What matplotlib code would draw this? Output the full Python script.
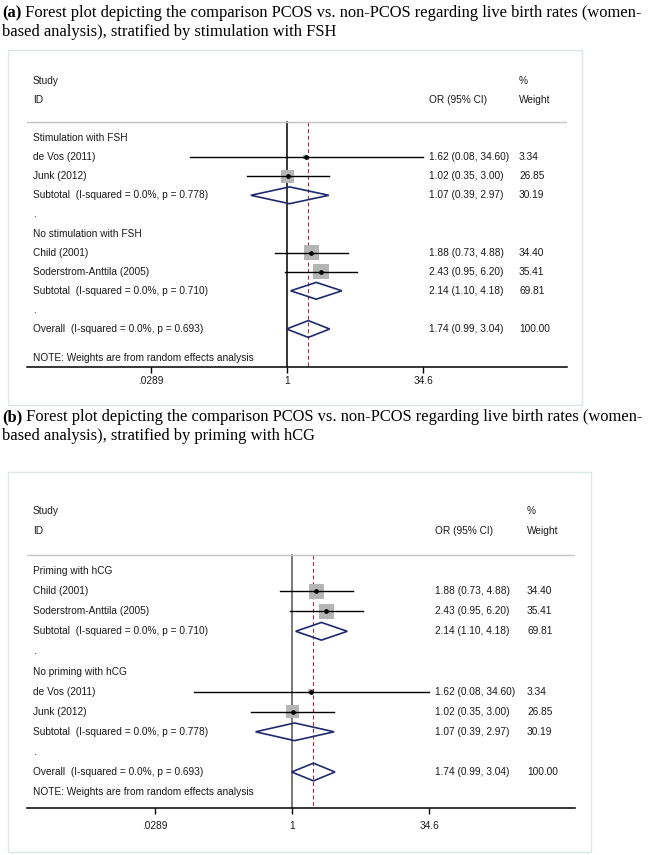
import numpy as np
import matplotlib.pyplot as plt
from matplotlib.patches import Rectangle, Polygon

W, H = 652, 855

# individual studies
studies = ["de Vos (2011)", "Junk (2012)", "Child (2001)", "Soderstrom-Anttila (2005)"]
study_or = [1.62, 1.02, 1.88, 2.43]
study_lo = [0.08, 0.35, 0.73, 0.95]
study_hi = [34.60, 3.00, 4.88, 6.20]
study_wt = [3.34, 26.85, 34.40, 35.41]

# panel (a): stratified by stimulation with FSH
names_a = ["Stimulation with FSH", "No stimulation with FSH"]
members_a = [[0, 1], [2, 3]]
sub_or_a = [1.07, 2.14]
sub_lo_a = [0.39, 1.10]
sub_hi_a = [2.97, 4.18]
sub_wt_a = [30.19, 69.81]
sub_p_a = ["0.778", "0.710"]

# panel (b): stratified by priming with hCG
names_b = ["Priming with hCG", "No priming with hCG"]
members_b = [[2, 3], [0, 1]]
sub_or_b = [2.14, 1.07]
sub_lo_b = [1.10, 0.39]
sub_hi_b = [4.18, 2.97]
sub_wt_b = [69.81, 30.19]
sub_p_b = ["0.710", "0.778"]

overall = (1.74, 0.99, 3.04, 100.00)
overall_p = "0.693"
i2 = "0.0%"

tick_vals = [0.0289, 1, 34.6]
tick_labels = [".0289", "1", "34.6"]

title_a = ("(a)", " Forest plot depicting the comparison PCOS vs. non-PCOS regarding live birth rates (women-",
           "based analysis), stratified by stimulation with FSH")
title_b = ("(b)", " Forest plot depicting the comparison PCOS vs. non-PCOS regarding live birth rates (women-",
           "based analysis), stratified by priming with hCG")

SANS = "Liberation Sans"
SERIF = "Liberation Serif"
TXT = "#1a1a1a"
FS = 7.3
TFS = 11.9
NAVY = "#1f2a6e"
SQ = "#b5b5b5"
RED = "#a0283c"

fig = plt.figure(figsize=(W / 100, H / 100), dpi=100)


def fx(px):
    return px / W


def fy(py):
    return 1 - py / H


def draw_title(title, y1, y2):
    t = fig.text(fx(2), fy(y1), title[0], fontfamily=SERIF, fontweight="bold",
                 fontsize=TFS, va="center", ha="left", color="black")
    fig.canvas.draw()
    bb = t.get_window_extent()
    fig.text(bb.x1 / W, fy(y1), title[1], fontfamily=SERIF, fontsize=TFS,
             va="center", ha="left", color="black")
    fig.text(fx(2), fy(y2), title[2], fontfamily=SERIF, fontsize=TFS,
             va="center", ha="left", color="black")


def draw_panel(lay, names, members, s_or, s_lo, s_hi, s_wt, s_p, null_color):
    # light frame around the panel
    fig.add_artist(Rectangle((fx(lay["box"][0]), fy(lay["box"][3])),
                             (lay["box"][2] - lay["box"][0]) / W,
                             (lay["box"][3] - lay["box"][1]) / H,
                             transform=fig.transFigure, fill=False,
                             edgecolor="#dfe7ea", lw=1.0))

    top_px = lay["row0"] - 4 * lay["rowh"]
    bot_px = lay["row0"] + lay["axis_row"] * lay["rowh"]
    ax = fig.add_axes([fx(lay["left"]), fy(bot_px),
                       (lay["right"] - lay["left"]) / W, (bot_px - top_px) / H])
    ax.set_xscale("log")
    ppl = (lay["tick_hi"] - lay["center"]) / np.log(tick_vals[-1])
    ax.set_xlim(np.exp((lay["left"] - lay["center"]) / ppl),
                np.exp((lay["right"] - lay["center"]) / ppl))
    ax.set_ylim(lay["axis_row"], -4)
    ax.patch.set_alpha(0)
    for s in ["top", "right", "left"]:
        ax.spines[s].set_visible(False)
    ax.spines["bottom"].set_linewidth(1.1)
    ax.set_yticks([])
    ax.set_xticks(tick_vals)
    ax.set_xticklabels(tick_labels)
    ax.minorticks_off()
    ax.tick_params(axis="x", direction="out", length=4, width=1, pad=lay["pad"],
                   labelsize=FS, labelcolor=TXT)
    for lab in ax.get_xticklabels():
        lab.set_fontfamily(SANS)

    tr = ax.get_yaxis_transform()
    x_name = (lay["name_x"] - lay["left"]) / (lay["right"] - lay["left"])
    x_ci = (lay["ci_x"] - lay["left"]) / (lay["right"] - lay["left"])
    x_wt = (lay["wt_x"] - lay["left"]) / (lay["right"] - lay["left"])

    def txt(x, y, s):
        ax.text(x, y, s, transform=tr, fontfamily=SANS, fontsize=FS, color=TXT,
                va="center", ha="left", clip_on=False)

    # header
    txt(x_name, -3, "Study")
    txt(x_name, -2, "ID")
    txt(x_wt, -3, "%")
    txt(x_ci, -2, "OR (95% CI)")
    txt(x_wt, -2, "Weight")
    sep = -0.82
    ax.axhline(sep, color="#c4c4c4", lw=1.0)

    def diamond(y, o, lo, hi):
        h = 0.44
        ax.add_patch(Polygon([(lo, y), (o, y - h), (hi, y), (o, y + h)], closed=True,
                             fill=False, edgecolor=NAVY, lw=1.2, zorder=4))

    row = 0
    for g in range(len(names)):
        txt(x_name, row, names[g])
        row += 1
        for i in members[g]:
            ax.scatter([study_or[i]], [row], s=3.4 * study_wt[i], marker="s",
                       color=SQ, edgecolors="none", zorder=2)
            ax.plot([study_lo[i], study_hi[i]], [row, row], color="black", lw=1.0, zorder=3)
            ax.plot([study_or[i]], [row], "o", color="black", markersize=2.4, zorder=5)
            txt(x_name, row, studies[i])
            txt(x_ci, row, f"{study_or[i]:.2f} ({study_lo[i]:.2f}, {study_hi[i]:.2f})")
            txt(x_wt, row, f"{study_wt[i]:.2f}")
            row += 1
        diamond(row, s_or[g], s_lo[g], s_hi[g])
        txt(x_name, row, f"Subtotal  (I-squared = {i2}, p = {s_p[g]})")
        txt(x_ci, row, f"{s_or[g]:.2f} ({s_lo[g]:.2f}, {s_hi[g]:.2f})")
        txt(x_wt, row, f"{s_wt[g]:.2f}")
        row += 1
        txt(x_name, row, ".")
        row += 1

    o, lo, hi, wt = overall
    diamond(row, o, lo, hi)
    txt(x_name, row, f"Overall  (I-squared = {i2}, p = {overall_p})")
    txt(x_ci, row, f"{o:.2f} ({lo:.2f}, {hi:.2f})")
    txt(x_wt, row, f"{wt:.2f}")
    txt(x_name, lay["note_row"], "NOTE: Weights are from random effects analysis")

    # line of no effect and overall estimate
    ax.plot([1, 1], [sep, lay["axis_row"]], color=null_color, lw=1.1, zorder=1)
    ax.plot([o, o], [sep, lay["axis_row"]], color=RED, lw=0.8,
            linestyle=(0, (3.5, 2.5)), zorder=1)
    return ax


lay_a = dict(box=(8, 50, 582, 405), left=27, right=567, center=287, tick_hi=423,
             row0=138, rowh=19.1, axis_row=12.0, note_row=11.5, pad=2.5,
             name_x=33, ci_x=429, wt_x=519)
lay_b = dict(box=(8, 472, 591, 852), left=27, right=575, center=292, tick_hi=429,
             row0=571, rowh=20.1, axis_row=11.8, note_row=11.0, pad=5,
             name_x=33, ci_x=435, wt_x=527)

draw_title(title_a, 13, 32)
draw_panel(lay_a, names_a, members_a, sub_or_a, sub_lo_a, sub_hi_a, sub_wt_a, sub_p_a, "black")
draw_title(title_b, 417, 436)
draw_panel(lay_b, names_b, members_b, sub_or_b, sub_lo_b, sub_hi_b, sub_wt_b, sub_p_b, "#555555")

fig.savefig("out.png", dpi=100)
